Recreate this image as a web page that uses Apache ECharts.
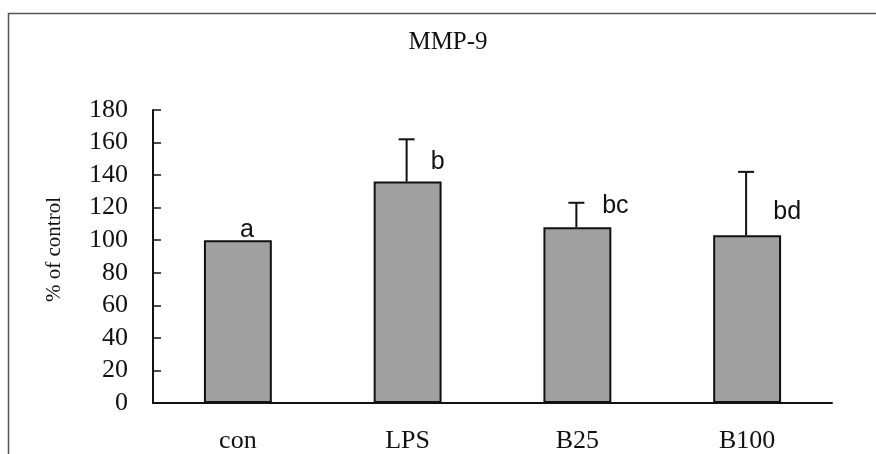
<!DOCTYPE html>
<html>
<head>
<meta charset="utf-8">
<script src="https://cdn.jsdelivr.net/npm/echarts@6/dist/echarts.min.js"></script>
<style>
  html, body { margin: 0; padding: 0; background: #fff; }
  #chart { width: 876px; height: 454px; }
</style>
</head>
<body>
<div id="chart"></div>
<script>
// data
const groups = ['con', 'LPS', 'B25', 'B100']
const means = [100, 136, 108, 103]
const errors = [0, 26, 15, 39]
const letters = ['a', 'b', 'bc', 'bd']
// where each significance letter sits (value on y axis)
const letterY = [106, 148, 121, 117]
const letterShift = [9, 30, 38, 40]
const yTicks = [0, 20, 40, 60, 80, 100, 120, 140, 160, 180]

const chart = echarts.init(document.getElementById('chart'))

const serif = 'Liberation Serif'

const option = {
  animation: false,
  title: {
    text: 'MMP-9',
    left: 448,
    top: 30,
    padding: 0,
    textAlign: 'center',
    textStyle: {
      fontFamily: serif,
      fontSize: 25,
      fontWeight: 'normal',
      color: '#111'
    }
  },
  graphic: [
    {
      type: 'rect',
      shape: { x: 8.5, y: 13.5, width: 1000, height: 1000 },
      style: { fill: 'none', stroke: '#555', lineWidth: 1.5 },
      silent: true
    }
  ],
  grid: {
    left: 153,
    right: 44,
    top: 110,
    bottom: 51
  },
  xAxis: {
    type: 'category',
    data: groups,
    axisLine: { lineStyle: { color: '#111', width: 2 } },
    axisTick: { inside: true, length: 7, lineStyle: { color: '#111', width: 1.5 } },
    axisLabel: {
      fontFamily: serif,
      fontSize: 26,
      color: '#111',
      margin: 25
    }
  },
  yAxis: {
    type: 'value',
    min: 0,
    max: yTicks[yTicks.length - 1],
    interval: 20,
    name: '% of control',
    nameLocation: 'middle',
    nameRotate: 90,
    nameGap: 88,
    nameTextStyle: {
      fontFamily: serif,
      fontSize: 21,
      color: '#111',
      padding: [0, 0, 0, 14]
    },
    axisLine: { show: true, lineStyle: { color: '#111', width: 2 } },
    axisTick: { show: true, inside: true, length: 8, lineStyle: { color: '#111', width: 1.5 } },
    splitLine: { show: false },
    axisLabel: {
      fontFamily: serif,
      fontSize: 26,
      color: '#111',
      margin: 25
    }
  },
  series: [
    {
      type: 'bar',
      data: means,
      barWidth: '40%',
      itemStyle: {
        color: '#a0a0a0',
        borderColor: '#111',
        borderWidth: 2
      },
      z: 2
    },
    {
      // upper error bars
      type: 'custom',
      data: means.map((m, i) => [i, m, m + errors[i]]),
      renderItem (params, api) {
        const i = api.value(0)
        if (api.value(2) === api.value(1)) return
        const lo = api.coord([i, api.value(1)])
        const hi = api.coord([i, api.value(2)])
        const x = lo[0] - 1
        return {
          type: 'group',
          children: [
            {
              type: 'line',
              shape: { x1: x, y1: lo[1], x2: x, y2: hi[1] },
              style: { stroke: '#111', lineWidth: 2 }
            },
            {
              type: 'line',
              shape: { x1: x - 8, y1: hi[1], x2: x + 8, y2: hi[1] },
              style: { stroke: '#111', lineWidth: 2 }
            }
          ]
        }
      },
      z: 3
    },
    {
      // significance letters
      type: 'custom',
      data: letterY.map((v, i) => [i, v]),
      renderItem (params, api) {
        const i = api.value(0)
        const p = api.coord([i, api.value(1)])
        return {
          type: 'text',
          x: p[0] + letterShift[i],
          y: p[1],
          style: {
            text: letters[params.dataIndex],
            fontFamily: 'Liberation Sans',
            fontSize: 25,
            fill: '#111',
            align: 'center',
            verticalAlign: 'middle'
          }
        }
      },
      z: 4
    }
  ]
}

chart.setOption(option)
</script>
</body>
</html>
